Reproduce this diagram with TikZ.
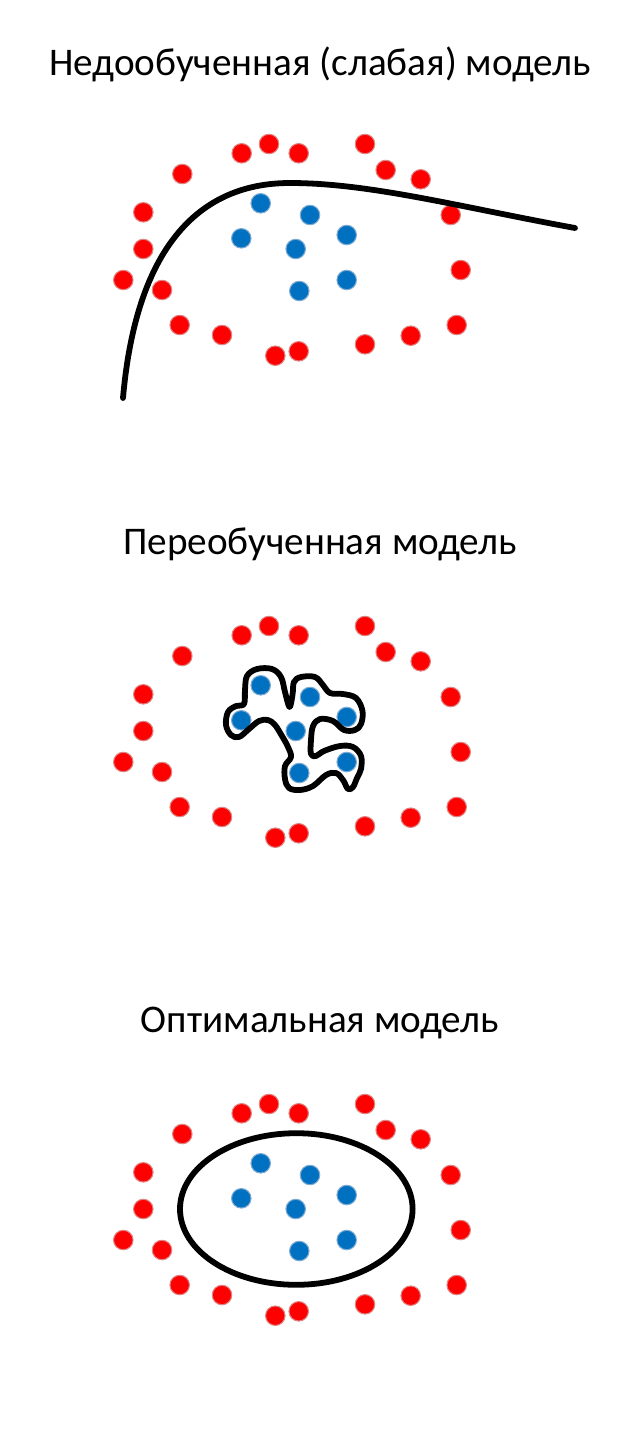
\documentclass[tikz,border=0pt]{standalone}
\usepackage{fontspec}
\setmainfont{Carlito}
\usetikzlibrary{calc}

\definecolor{pontovermelho}{RGB}{255,0,0}
\definecolor{bordavermelha}{RGB}{222,130,130}
\definecolor{pontoazul}{RGB}{0,112,192}
\definecolor{bordaazul}{RGB}{125,170,210}

\begin{document}
\begin{tikzpicture}[x=0.02cm, y=-0.02cm,
	reddot/.style={circle, inner sep=0pt, minimum size=0.39cm, fill=pontovermelho, draw=bordavermelha, line width=0.6pt},
	bluedot/.style={circle, inner sep=0pt, minimum size=0.39cm, fill=pontoazul, draw=bordaazul, line width=0.6pt},
	titulo/.style={anchor=base, font=\fontsize{22.3}{26}\selectfont},
	fronteira/.style={line width=3.3pt, color=black, line cap=round, line join=round}]
	
	\useasboundingbox (0,0) rectangle (640,1440);
	
	\node[titulo] (tituloA) at (320,75) {Недообученная (слабая) модель};
	\node[titulo] (tituloB) at (320,554) {Переобученная модель};
	\node[titulo] (tituloC) at (320,1032) {Оптимальная модель};
	
	\foreach \painel/\dy in {A/0, B/482, C/960}{
		\begin{scope}[shift={(0,\dy)}]
			\foreach \px/\py [count=\i] in {241.7/153.3, 269/144, 298.7/153.3, 365/144, 385.7/170, 420.7/179.3, 182.3/174, 143.3/212.3, 143.3/249, 123.3/280, 162/290, 179.7/325, 222/335, 275.3/355.7, 298.7/351.3, 365/344.3, 410.7/335.7, 456.7/325, 460.7/270, 450.7/215}
				\node[reddot] (r\painel\i) at (\px,\py) {};
			\foreach \px/\py [count=\i] in {260.7/203.3, 310/215, 241.3/238.3, 295.7/249, 346.7/235, 299.3/291, 346.7/280}
				\node[bluedot] (b\painel\i) at (\px,\py) {};
		\end{scope}
	}
	
	\coordinate (curvaIni) at (123,398);
	\coordinate (curvaTopo) at (290,183);
	\coordinate (curvaFim) at (575,228);
	
	\draw[fronteira] (curvaIni) .. controls (135,260) and (190,183) .. (curvaTopo) .. controls (370,183) and (460,207) .. (curvaFim);
	
	\draw[fronteira] plot[smooth cycle, tension=0.6] coordinates {(245,690) (247,676) (257,669) (272,669) (281,677) (285,692) (289.5,707) (292.5,695) (294,682) (301,677) (315,677) (323,685) (330,693) (343,694) (356,698) (362.5,711) (361,724) (355,730) (344,730) (333,721) (320,719) (313,726) (311,740) (311,754) (316,756) (324,751) (340,746) (353,747) (361,756) (361,769) (357,778) (353,787) (348,789) (343,780) (336,773) (326,775) (313,786) (300,790) (289,788) (285,779) (285,766) (291,757) (288,747) (282,736) (275,725) (268,720) (259,721) (249,729) (239,737) (231,735) (226,725) (228,712) (236,706) (244,704)};
	
	\coordinate (centroElipse) at (296.3,1209);
	\draw[fronteira] (centroElipse) ellipse [x radius=116.3, y radius=75.8];
	
\end{tikzpicture}
\end{document}
